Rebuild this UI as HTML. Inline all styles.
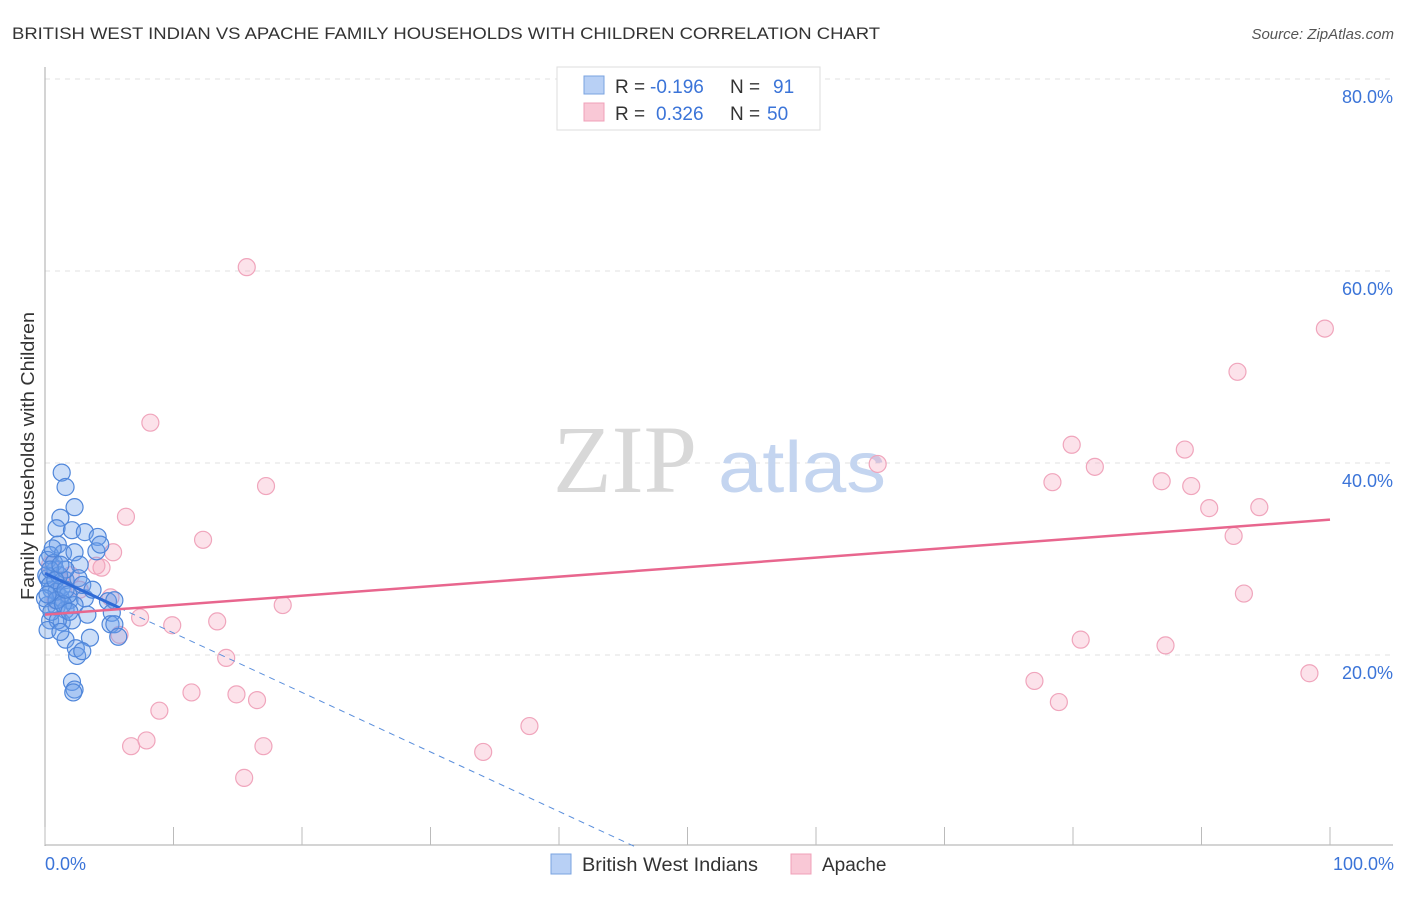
<!DOCTYPE html>
<html><head><meta charset="utf-8"><style>
body{margin:0;background:#fff;font-family:"Liberation Sans",sans-serif}
</style></head><body>
<svg width="1406" height="892" xmlns="http://www.w3.org/2000/svg" font-family="Liberation Sans, sans-serif">
<text x="12" y="39" font-size="17" fill="#333" textLength="868" lengthAdjust="spacingAndGlyphs">BRITISH WEST INDIAN VS APACHE FAMILY HOUSEHOLDS WITH CHILDREN CORRELATION CHART</text>
<text x="1394" y="39" font-size="15" fill="#555" font-style="italic" text-anchor="end">Source: ZipAtlas.com</text>
<g id="grid"></g>
<g><text x="553" y="492" font-size="96" font-family="Liberation Serif, serif" fill="#d8d8d8">ZIP</text><text x="718" y="492" font-size="72" fill="#c4d5f0" textLength="168" lengthAdjust="spacingAndGlyphs">atlas</text></g>
<line x1="45" y1="67" x2="45" y2="846" stroke="#aaa"/>
<line x1="45" y1="845" x2="1393" y2="845" stroke="#aaa"/>
<text transform="translate(34,456) rotate(-90)" font-size="18" fill="#333" text-anchor="middle" textLength="288" lengthAdjust="spacingAndGlyphs">Family Households with Children</text>
<text x="45" y="870" font-size="18" fill="#3b74d8">0.0%</text>
<text x="1394" y="870" font-size="18" fill="#3b74d8" text-anchor="end">100.0%</text>
<g id="ticks"></g>
<g id="pts"></g>
<g id="lines"></g>
<g>
<rect x="557" y="67" width="263" height="63" fill="#fff" stroke="#ddd"/>
<rect x="584" y="76" width="20" height="18" fill="#b8d0f5" stroke="#7aa3e0"/>
<rect x="584" y="103" width="20" height="18" fill="#f9c8d6" stroke="#f0a0b8"/>
<g font-size="19" fill="#333">
<text x="615" y="93">R =</text><text x="650" y="93" fill="#3b74d8">-0.196</text><text x="730" y="93">N =</text><text x="773" y="93" fill="#3b74d8">91</text>
<text x="615" y="120">R =</text><text x="656" y="120" fill="#3b74d8">0.326</text><text x="730" y="120">N =</text><text x="767" y="120" fill="#3b74d8">50</text>
</g>
</g>
<g>
<rect x="551" y="854" width="20" height="20" fill="#b8d0f5" stroke="#7aa3e0"/>
<text x="582" y="871" font-size="19" fill="#333" textLength="176" lengthAdjust="spacingAndGlyphs">British West Indians</text>
<rect x="791" y="854" width="20" height="20" fill="#f9c8d6" stroke="#f0a0b8"/>
<text x="822" y="871" font-size="19" fill="#333">Apache</text>
</g>
</svg>
<script>
const yTicks=[20,40,60,80];
const xTicks=[0,10,20,30,40,50,60,70,80,90,100];
const blueX=[1.3,1.6,2.3,1.2,0.9,2.1,3.1,4.1,4.0,1.0,0.4,1.4,2.3,2.7,0.8,0.2,1.6,2.6,0.5,1.2,1.9,3.1,0.2,0.9,1.6,2.3,0.4,1.3,2.1,3.3,4.9,5.4,5.2,5.1,5.4,3.5,5.7,1.6,2.4,2.5,2.9,2.1,2.3,2.2,0.1,0.4,0.9,1.3,1.8,0.2,0.7,1.1,1.6,0.0,0.5,1.0,0.2,1.2,2.9,3.7,4.3,0.9,1.4,1.9,0.4,0.8,1.2,0.2,1.6,0.6];
const blueY=[39.0,37.5,35.4,34.3,33.2,33.0,32.8,32.3,30.8,31.5,30.4,30.6,30.7,29.4,28.9,28.0,27.8,28.0,26.8,26.0,25.7,25.9,25.2,25.0,24.7,25.2,23.6,23.4,23.6,24.2,25.6,25.7,24.4,23.2,23.2,21.8,21.9,21.6,20.7,19.9,20.4,17.2,16.4,16.1,28.3,27.3,26.6,27.0,26.3,29.9,29.6,28.3,28.9,25.9,24.5,23.6,22.6,22.4,27.3,26.8,31.5,25.7,25.3,24.5,28.9,27.8,29.4,26.3,26.8,31.1];
const pinkX=[15.7,8.2,17.2,6.3,12.3,5.3,4.4,4.0,18.5,5.1,7.4,9.9,13.4,5.8,14.1,11.4,14.9,16.5,8.9,7.9,6.7,17.0,15.5,34.1,37.7,64.8,79.9,78.4,81.7,86.9,88.7,89.2,90.6,92.5,94.5,92.8,99.6,93.3,80.6,87.2,77.0,78.9,98.4,0.4,1.2,2.0,0.8,2.7];
const pinkY=[60.4,44.2,37.6,34.4,32.0,30.7,29.1,29.3,25.2,26.0,23.9,23.1,23.5,22.1,19.7,16.1,15.9,15.3,14.2,11.1,10.5,10.5,7.2,9.9,12.6,39.9,41.9,38.0,39.6,38.1,41.4,37.6,35.3,32.4,35.4,49.5,54.0,26.4,21.6,21.0,17.3,15.1,18.1,29.4,27.8,28.3,25.7,26.8];
const blueLine=[28.5,-0.62];
const pinkLine=[24.2,0.099];
const NS='http://www.w3.org/2000/svg';
const sx=v=>45+v*12.85, sy=v=>847-v*9.6;
function mk(t,a,p){const e=document.createElementNS(NS,t);for(const k in a)e.setAttribute(k,a[k]);document.getElementById(p).appendChild(e);return e;}
yTicks.forEach(v=>{
 const l=mk('line',{x1:45,x2:1393,y1:sy(v),y2:sy(v),stroke:'#e2e2e2','stroke-dasharray':'5,5'},'grid');
 
 
 const t=mk('text',{x:1393,y:sy(v)+24,'font-size':18,fill:'#3b74d8','text-anchor':'end'},'grid');
 t.textContent=v.toFixed(1)+'%';
 
 
});
xTicks.forEach(v=>{
 const l=mk('line',{x1:sx(v),x2:sx(v),y1:827,y2:845,stroke:'#bbb'},'ticks');
 
 
});
pinkX.forEach((x,i)=>{
 const c=mk('circle',{cx:sx(x),cy:sy(pinkY[i]),r:8.5,fill:'rgba(245,160,185,0.3)',stroke:'#f0a5bc','stroke-width':1.2},'pts');
 
 
});
blueX.forEach((x,i)=>{
 const c=mk('circle',{cx:sx(x),cy:sy(blueY[i]),r:8.5,fill:'rgba(110,160,235,0.35)',stroke:'#4f86da','stroke-width':1.2},'pts');
 
 
});
const bz=-blueLine[0]/blueLine[1];
const b1=mk('line',{x1:sx(0),y1:sy(blueLine[0]),x2:sx(5.8),y2:sy(blueLine[0]+blueLine[1]*5.8),stroke:'#2f6bd6','stroke-width':3},'lines');


const b2=mk('line',{x1:sx(5.8),y1:sy(blueLine[0]+blueLine[1]*5.8),x2:sx(bz),y2:sy(0),stroke:'#5b8fdc','stroke-width':1,'stroke-dasharray':'6,5'},'lines');


const p1=mk('line',{x1:sx(0),y1:sy(pinkLine[0]),x2:sx(100),y2:sy(pinkLine[0]+pinkLine[1]*100),stroke:'#e8668e','stroke-width':2.5},'lines');


</script>
</body></html>
